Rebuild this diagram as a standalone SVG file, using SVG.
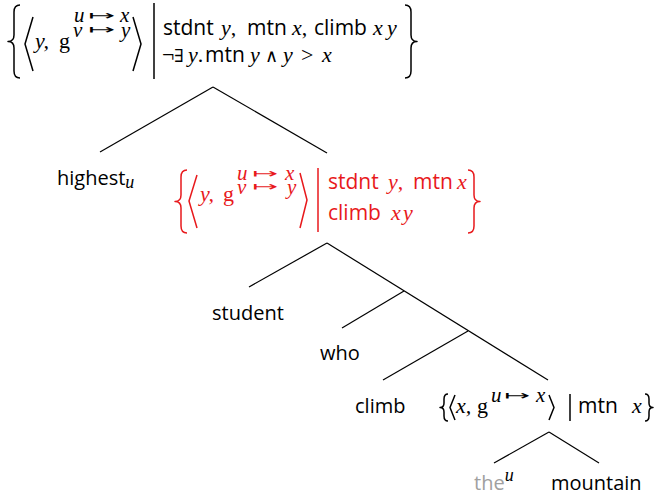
<svg xmlns="http://www.w3.org/2000/svg" width="658" height="496" viewBox="0 0 658 496">
<style>
.w{font-family:"Open Sans","Noto Sans",sans-serif;font-size:20px;fill:#000}
.s{font-family:"Open Sans","Noto Sans",sans-serif;font-size:21px}
.m{font-family:"Liberation Serif",serif;font-style:italic;font-size:22px}
.r{font-family:"Liberation Serif",serif;font-size:22px}
.sup{font-family:"Liberation Serif",serif;font-style:italic;font-size:21px}
.ar{font-family:"DejaVu Sans",sans-serif;font-size:13px}
.sy{font-family:"DejaVu Serif",serif;font-size:18px}
.blk{fill:#000}
.red{fill:#e8191c}
.br{fill:none;stroke-width:1.5;stroke-linejoin:round}
.bk{stroke:#000}
.rd{stroke:#e8191c}
.edge{stroke:#000;stroke-width:1.2;fill:none}
</style>
<g id="edges">
<line class="edge" x1="213" y1="87" x2="100" y2="152"/>
<line class="edge" x1="213" y1="87" x2="327" y2="153"/>
<line class="edge" x1="327" y1="243" x2="249" y2="287"/>
<line class="edge" x1="327" y1="243" x2="548" y2="380"/>
<line class="edge" x1="404" y1="291" x2="342" y2="328"/>
<line class="edge" x1="468" y1="331" x2="383" y2="380"/>
<line class="edge" x1="549" y1="432" x2="494" y2="463"/>
<line class="edge" x1="549" y1="432" x2="599" y2="463"/>
</g>
<g id="root" class="blk">
<path class="br bk" d="M20,5 Q14,5 14,12 L14,35 Q14,41.5 8,41.5 Q14,41.5 14,48 L14,71 Q14,78 20,78"/>
<polyline class="br bk" points="33,17 25,44 33,71"/>
<text class="m" x="35" y="48">y<tspan class="r">,</tspan></text>
<text class="r" x="59" y="48">g</text>
<text class="sup" x="74" y="22">u</text><text class="ar" x="88" y="20" textLength="27" lengthAdjust="spacingAndGlyphs">↦</text><text class="sup" x="120" y="22">x</text>
<text class="sup" x="73" y="37">v</text><text class="ar" x="88" y="34" textLength="27" lengthAdjust="spacingAndGlyphs">↦</text><text class="sup" x="121" y="37">y</text>
<polyline class="br bk" points="133,17 141,44 133,71"/>
<line class="br bk" x1="154" y1="3" x2="154" y2="79"/>
<text y="35"><tspan class="s" x="163">stdnt</tspan><tspan class="m" x="221">y</tspan><tspan class="r">,</tspan><tspan class="s" x="247">mtn</tspan><tspan class="m" x="292">x</tspan><tspan class="r">,</tspan><tspan class="s" x="314">climb</tspan><tspan class="m" x="373">x</tspan><tspan class="m" x="387">y</tspan></text>
<text y="62"><tspan class="r" x="162">¬</tspan><tspan class="sy" x="174">∃</tspan><tspan class="m" x="188">y</tspan><tspan class="r">.</tspan><tspan class="s" x="205">mtn</tspan><tspan class="m" x="250">y</tspan><tspan class="sy" x="265">∧</tspan><tspan class="m" x="283">y</tspan><tspan class="r" x="301">&gt;</tspan><tspan class="m" x="322">x</tspan></text>
<path class="br bk" d="M405,5 Q411,5 411,12 L411,35 Q411,41.5 417,41.5 Q411,41.5 411,48 L411,71 Q411,78 405,78"/>
</g>
<g id="highest"><text class="w" x="57" y="185">highest<tspan class="sup" dy="3" style="font-size:18px">u</tspan></text></g>
<g id="restricted" class="red">
<path class="br rd" d="M187,170 Q181,170 181,177 L181,195 Q181,201.5 175,201.5 Q181,201.5 181,208 L181,226 Q181,233 187,233"/>
<polyline class="br rd" points="197,175 189,201 197,228"/>
<text class="m" x="200" y="201">y<tspan class="r">,</tspan></text>
<text class="r" x="223" y="201">g</text>
<text class="sup" x="237" y="180">u</text><text class="ar" x="252" y="178" textLength="26" lengthAdjust="spacingAndGlyphs">↦</text><text class="sup" x="285" y="180">x</text>
<text class="sup" x="237" y="194">v</text><text class="ar" x="252" y="191" textLength="26" lengthAdjust="spacingAndGlyphs">↦</text><text class="sup" x="287" y="194">y</text>
<polyline class="br rd" points="300,173 307,200 300,228"/>
<line class="br rd" x1="318" y1="168" x2="318" y2="232"/>
<text y="189"><tspan class="s" x="328">stdnt</tspan><tspan class="m" x="388">y</tspan><tspan class="r">,</tspan><tspan class="s" x="413">mtn</tspan><tspan class="m" x="457">x</tspan></text>
<text y="220"><tspan class="s" x="328">climb</tspan><tspan class="m" x="391">x</tspan><tspan class="m" x="403">y</tspan></text>
<path class="br rd" d="M468,170 Q474,170 474,177 L474,195 Q474,201.5 480,201.5 Q474,201.5 474,208 L474,226 Q474,233 468,233"/>
</g>
<g id="student"><text class="w" x="212" y="320">student</text></g>
<g id="who"><text class="w" x="320" y="360">who</text></g>
<g id="climb"><text class="w" x="355" y="413">climb</text></g>
<g id="mountain-set" class="blk">
<path class="br bk" d="M448,394 Q444,394 444,399 L444,403 Q444,407.5 440,407.5 Q444,407.5 444,412 L444,416 Q444,421 448,421"/>
<polyline class="br bk" points="455,395 450,407.5 455,420"/>
<text class="m" x="456" y="413">x<tspan class="r">,</tspan></text>
<text class="r" x="477" y="413">g</text>
<text class="sup" x="491" y="402">u</text><text class="ar" x="504" y="400" textLength="26" lengthAdjust="spacingAndGlyphs">↦</text><text class="sup" x="536" y="402">x</text>
<polyline class="br bk" points="549,395 554,407.5 549,420"/>
<line class="br bk" x1="570" y1="394" x2="570" y2="421"/>
<text y="413"><tspan class="s" x="578">mtn</tspan><tspan class="m" x="632">x</tspan></text>
<path class="br bk" d="M645,394 Q649,394 649,399 L649,403 Q649,407.5 653,407.5 Q649,407.5 649,412 L649,416 Q649,421 645,421"/>
</g>
<g id="the"><text class="w" x="474" y="490"><tspan fill="#a0a0a0">the</tspan><tspan class="sup" dy="-9" style="font-size:18px">u</tspan></text></g>
<g id="mountain"><text class="w" x="551" y="490">mountain</text></g>
</svg>
